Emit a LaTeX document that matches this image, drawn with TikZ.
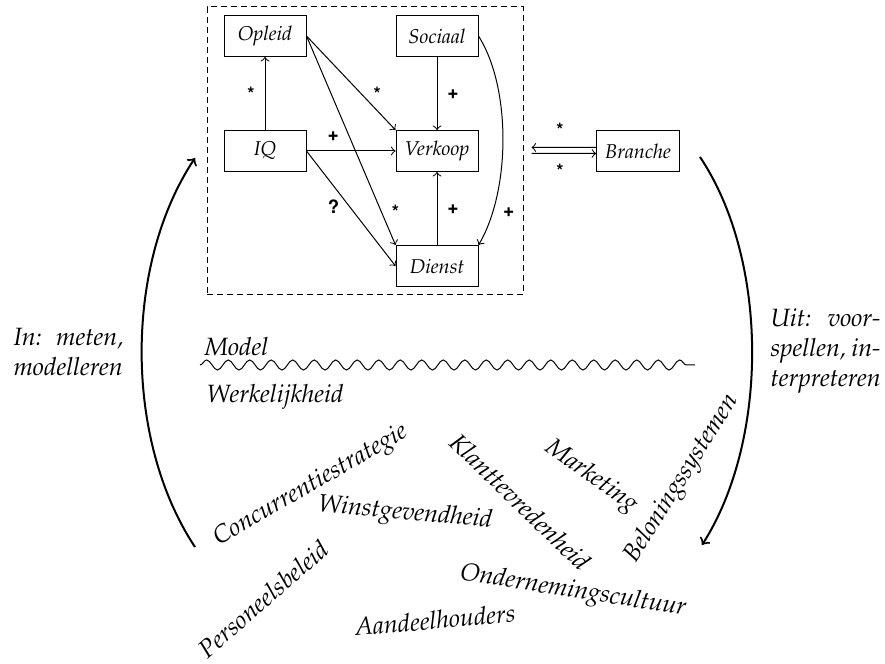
\documentclass[tikz,border=0pt]{standalone}
\usepackage[T1]{fontenc}
\usepackage{mathpazo}
\usepackage[scaled=0.92]{helvet}
\usetikzlibrary{arrows,positioning,decorations.pathmorphing}

\begin{document}
\begin{tikzpicture}[
    x=0.4pt,
    y=-0.4pt,
    node distance=46pt,
    >=to,
    font=\itshape,
    factor/.style={
		rectangle,
		draw=black,
		text centered,
		font=\footnotesize\itshape,
		minimum height=16.4pt,
		minimum width=32.8pt,
		fill=white
	},
	effect/.style={
		font=\footnotesize\sffamily\bfseries,
		inner sep=1pt
	},
	word/.style={
		inner sep=0pt
	},
	cycle/.style={
		->,
		line width=0.8pt
	}
  ]

\useasboundingbox (0,0) rectangle (885,664);

% // The model
\node [factor] (opleid) at (265,36) {Opleid};
\node [factor, below of=opleid] (iq) {IQ};
\node [factor, right of=iq, xshift=22.8pt] (verkoop) {Verkoop};
\node [factor, above of=verkoop] (sociaal) {Sociaal};
\node [factor, below of=verkoop] (dienst) {Dienst};
\node [factor, right of=verkoop, xshift=34.4pt] (branche) {Branche};

\node [draw, dashed, dash pattern=on 2.4pt off 1.6pt,
minimum width=126.4pt,
minimum height=115.2pt] (modelbox) at (365,151) {};

 \draw [->] (iq) -- node [effect, left=3pt] {*} (opleid);
 \draw [->] (opleid.east) -- node [effect, pos=0.72, above right] {*} (verkoop.north west);
 \draw [->] (opleid.east) -- node [effect, pos=0.84, right=3pt] {*} (dienst.north west);
 \draw [->] (iq) -- node [effect, pos=0.3, above=3pt] {+} (verkoop);
 \draw [->] (iq.east) -- node [effect, pos=0.4, below left] {?} (dienst.west);
 \draw [->] (sociaal) -- node [effect, right=3pt] {+} (verkoop);
 \draw [->] (dienst) -- node [effect, right=3pt] {+} (verkoop);
 \draw [->] (sociaal.east) .. controls +(33,52) and +(32,-54) .. node [effect, pos=0.82, right=3pt] {+} (dienst.north east);

% // Branche
 \draw [->, shorten >=3.2pt] ([yshift=1.4pt]branche.west) -- node [effect, above=3pt] {*} ([yshift=1.4pt]modelbox.east);
 \draw [->, shorten <=3.2pt] ([yshift=-1pt]modelbox.east) -- node [effect, below=3pt] {*} ([yshift=-1pt]branche.west);

% // In and out
\coordinate (inlow) at (195,547);
\coordinate (inhigh) at (195,158);
\coordinate (uithigh) at (700,157);
\coordinate (uitlow) at (702,545);
 \draw [cycle] (inlow) .. controls (124,440) and (124,265) .. (inhigh);
 \draw [cycle] (uithigh) .. controls (769,260) and (769,440) .. (uitlow);

\node [word, anchor=west, text width=44pt, align=justify] (in) at (13,352) {In:\hfill meten,\\ modelleren};
\node [word, anchor=west, text width=44pt, align=justify] (uit) at (770,351) {Uit:\hfill voor-\\ spellen,\hfill in-\\ terpreteren};

% // Model and reality
\node [word, anchor=west] (model) at (204,347) {Model};
\node [word, anchor=west] (real) at (206,397) {Werkelijkheid};
\coordinate (borderw) at (200,365);
\coordinate (bordere) at (695,365);
 \draw [decorate, decoration={snake, amplitude=2pt, segment length=8.6pt}] (borderw) -- (bordere);

\node [word, rotate=30] (concurrentie) at (311,486) {Concurrentiestrategie};
\node [word, rotate=-5] (winst) at (405,514) {Winstgevendheid};
\node [word, rotate=-44] (klant) at (520,502) {Klanttevredenheid};
\node [word, rotate=-35] (marketing) at (591,477) {Marketing};
\node [word, rotate=58] (beloning) at (682,479) {Beloningssystemen};
\node [word, rotate=41] (personeel) at (263,599) {Personeelsbeleid};
\node [word, rotate=5] (aandeel) at (435,620) {Aandeelhouders};
\node [word, rotate=-9] (cultuur) at (573,592) {Ondernemingscultuur};

\end{tikzpicture}
\end{document}
